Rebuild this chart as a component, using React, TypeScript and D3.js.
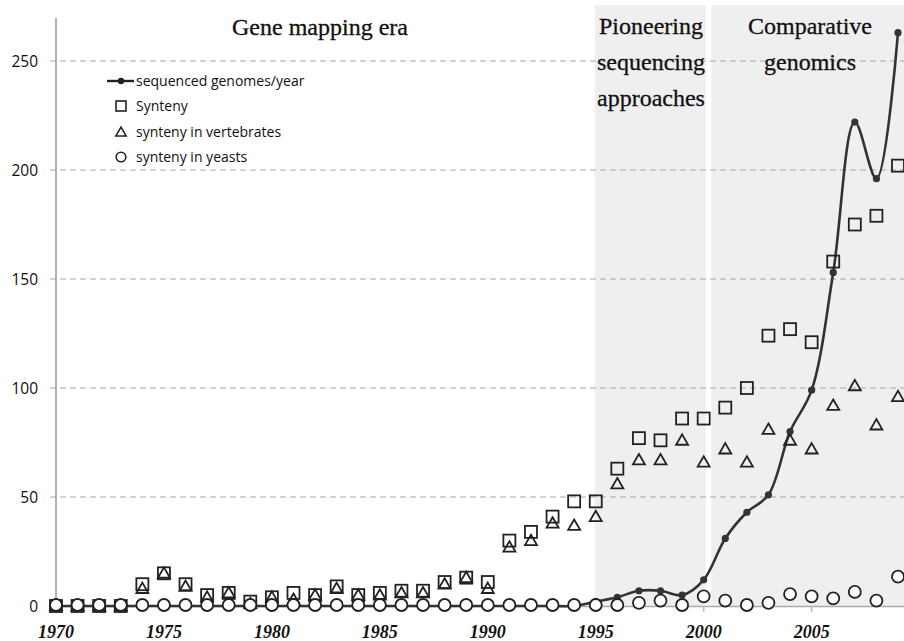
import React, { useEffect, useRef } from "react";
import * as d3 from "d3";

// years on the x axis
const years = [
  1970, 1971, 1972, 1973, 1974, 1975, 1976, 1977, 1978, 1979,
  1980, 1981, 1982, 1983, 1984, 1985, 1986, 1987, 1988, 1989,
  1990, 1991, 1992, 1993, 1994, 1995, 1996, 1997, 1998, 1999,
  2000, 2001, 2002, 2003, 2004, 2005, 2006, 2007, 2008, 2009,
];

// sequenced genomes/year (smoothed line)
const genomes = [
  0, 0, 0, 0, 0, 0, 0, 0, 0, 0,
  0, 0, 0, 0, 0, 0, 0, 0, 0, 0,
  0, 0, 0, 0, 0, 2, 4, 7, 7, 5,
  12, 31, 43, 51, 80, 99, 153, 222, 196, 263,
];

// Synteny (squares)
const synteny = [
  0, 0, 0, 0, 10, 15, 10, 5, 6, 2,
  4, 6, 5, 9, 5, 6, 7, 7, 11, 13,
  11, 30, 34, 41, 48, 48, 63, 77, 76, 86,
  86, 91, 100, 124, 127, 121, 158, 175, 179, 202,
];

// synteny in vertebrates (triangles)
const vertebrates = [
  0, 0, 0, 0, 8, 15, 9, 4, 6, 1,
  4, 3, 5, 8, 5, 5, 6, 6, 10, 13,
  8, 27, 30, 38, 37, 41, 56, 67, 67, 76,
  66, 72, 66, 81, 76, 72, 92, 101, 83, 96,
];

// synteny in yeasts (circles)
const yeasts = [
  0, 0, 0, 0, 0, 0, 0, 0, 0, 0,
  0, 0, 0, 0, 0, 0, 0, 0, 0, 0,
  0, 0, 0, 0, 0, 0, 0, 1, 2, 0,
  4, 2, 0, 1, 5, 4, 3, 6, 2, 13,
];

const yTicks = [0, 50, 100, 150, 200, 250];
const xTicks = [1970, 1975, 1980, 1985, 1990, 1995, 2000, 2005];

const legendLabels = [
  "sequenced genomes/year",
  "Synteny",
  "synteny in vertebrates",
  "synteny in yeasts",
];

// era bands: [start year, end year]
const eras = [
  [1994.95, 2000.1],
  [2000.35, 2010],
];

const serif = "'Liberation Serif', 'DejaVu Serif', serif";
const sans = "'Open Sans', 'Liberation Sans', sans-serif";

export default function App() {
  const ref = useRef<SVGSVGElement>(null);

  useEffect(() => {
    const svg = d3.select(ref.current);
    svg.selectAll("*").remove();

    const x = d3.scaleLinear().domain([1970, 2009]).range([56, 898]);
    const y = d3.scaleLinear().domain([0, 250]).range([606, 61]);
    const ink = "#222";

    // shaded eras
    svg.selectAll("rect.era")
      .data(eras)
      .enter().append("rect")
      .attr("class", "era")
      .attr("x", d => x(d[0]))
      .attr("y", 5)
      .attr("width", d => Math.min(x(d[1]), 904) - x(d[0]))
      .attr("height", y(0) - 5)
      .attr("fill", "#efefef");

    // gridlines
    svg.selectAll("line.grid")
      .data(yTicks.filter(t => t > 0))
      .enter().append("line")
      .attr("x1", 50).attr("x2", 904)
      .attr("y1", d => y(d)).attr("y2", d => y(d))
      .attr("stroke", "#a8a8a8")
      .attr("stroke-width", 1.2)
      .attr("stroke-dasharray", "6,4");

    // y axis
    svg.append("line")
      .attr("x1", 56).attr("x2", 56)
      .attr("y1", 18).attr("y2", y(0))
      .attr("stroke", "#999").attr("stroke-width", 1.5);

    svg.selectAll("text.ylab")
      .data(yTicks)
      .enter().append("text")
      .attr("x", 38)
      .attr("y", d => y(d))
      .attr("dy", "0.36em")
      .attr("text-anchor", "end")
      .attr("font-family", sans)
      .attr("font-size", 15.5)
      .attr("fill", "#111")
      .text(d => d);

    // x axis
    svg.append("line")
      .attr("x1", 56).attr("x2", 904)
      .attr("y1", y(0) + 0.5).attr("y2", y(0) + 0.5)
      .attr("stroke", "#aaa").attr("stroke-width", 1.5);

    svg.selectAll("line.xtick")
      .data(xTicks)
      .enter().append("line")
      .attr("x1", d => x(d)).attr("x2", d => x(d))
      .attr("y1", y(0)).attr("y2", y(0) + 6)
      .attr("stroke", "#bbb").attr("stroke-width", 1.5);

    svg.selectAll("text.xlab")
      .data(xTicks)
      .enter().append("text")
      .attr("x", d => x(d))
      .attr("y", 638)
      .attr("text-anchor", "middle")
      .attr("font-family", serif)
      .attr("font-size", 18)
      .attr("font-weight", "bold")
      .attr("font-style", "italic")
      .attr("fill", "#111")
      .text(d => d);

    // era titles
    const titles = [
      { lines: ["Gene mapping era"], cx: 320, y0: 35 },
      { lines: ["Pioneering", "sequencing", "approaches"], cx: 651, y0: 34 },
      { lines: ["Comparative", "genomics"], cx: 810, y0: 34 },
    ];
    titles.forEach(t => {
      t.lines.forEach((s, i) => {
        svg.append("text")
          .attr("x", t.cx)
          .attr("y", t.y0 + i * 36)
          .attr("text-anchor", "middle")
          .attr("font-family", serif)
          .attr("font-size", 24)
          .attr("fill", "#111")
          .attr("stroke", "#111")
          .attr("stroke-width", 0.3)
          .text(s);
      });
    });

    // sequenced genomes line
    const line = d3.line<number>()
      .x((d, i) => x(years[i]))
      .y(d => y(d))
      .curve(d3.curveCatmullRom.alpha(0.5));

    svg.append("path")
      .datum(genomes)
      .attr("d", line)
      .attr("fill", "none")
      .attr("stroke", "#333")
      .attr("stroke-width", 2.6);

    svg.selectAll("circle.gdot")
      .data(genomes)
      .enter().append("circle")
      .attr("cx", (d, i) => x(years[i]))
      .attr("cy", d => y(d))
      .attr("r", 3.6)
      .attr("fill", "#333");

    // synteny squares
    const sq = 12;
    svg.selectAll("rect.syn")
      .data(synteny)
      .enter().append("rect")
      .attr("x", (d, i) => x(years[i]) - sq / 2)
      .attr("y", d => y(d) - sq / 2)
      .attr("width", sq).attr("height", sq)
      .attr("fill", "none")
      .attr("stroke", ink)
      .attr("stroke-width", 1.8);

    // vertebrate triangles
    const tri = d3.symbol().type(d3.symbolTriangle).size(62);
    svg.selectAll("path.vert")
      .data(vertebrates)
      .enter().append("path")
      .attr("d", tri)
      .attr("transform", (d, i) => "translate(" + x(years[i]) + "," + (y(d) + 1) + ")")
      .attr("fill", "none")
      .attr("stroke", ink)
      .attr("stroke-width", 1.8);

    // yeast circles
    svg.selectAll("circle.yeast")
      .data(yeasts)
      .enter().append("circle")
      .attr("cx", (d, i) => x(years[i]))
      .attr("cy", d => y(d) - 1)
      .attr("r", 6)
      .attr("fill", "white")
      .attr("stroke", ink)
      .attr("stroke-width", 1.8);

    // legend
    const lg = svg.append("g").attr("transform", "translate(121,0)");
    const rowY = [81, 106, 132, 157];
    lg.append("line")
      .attr("x1", -14).attr("x2", 13)
      .attr("y1", rowY[0]).attr("y2", rowY[0])
      .attr("stroke", "#222").attr("stroke-width", 2.4);
    lg.append("circle")
      .attr("cx", 0).attr("cy", rowY[0]).attr("r", 3.2).attr("fill", "#222");
    lg.append("rect")
      .attr("x", -5).attr("y", rowY[1] - 5)
      .attr("width", 10).attr("height", 10)
      .attr("fill", "none").attr("stroke", ink).attr("stroke-width", 1.6);
    lg.append("path")
      .attr("d", d3.symbol().type(d3.symbolTriangle).size(45)())
      .attr("transform", "translate(0," + (rowY[2] + 1) + ")")
      .attr("fill", "none").attr("stroke", ink).attr("stroke-width", 1.6);
    lg.append("circle")
      .attr("cx", 0).attr("cy", rowY[3]).attr("r", 4.8)
      .attr("fill", "white").attr("stroke", ink).attr("stroke-width", 1.6);

    lg.selectAll("text")
      .data(legendLabels)
      .enter().append("text")
      .attr("x", 15)
      .attr("y", (d, i) => rowY[i])
      .attr("dy", "0.35em")
      .attr("font-family", sans)
      .attr("font-size", 14)
      .attr("fill", "#111")
      .text(d => d);
  }, []);

  return (
    <svg
      ref={ref}
      width={904}
      height={641}
      style={{ position: "absolute", left: 0, top: 0, background: "white" }}
    />
  );
}
